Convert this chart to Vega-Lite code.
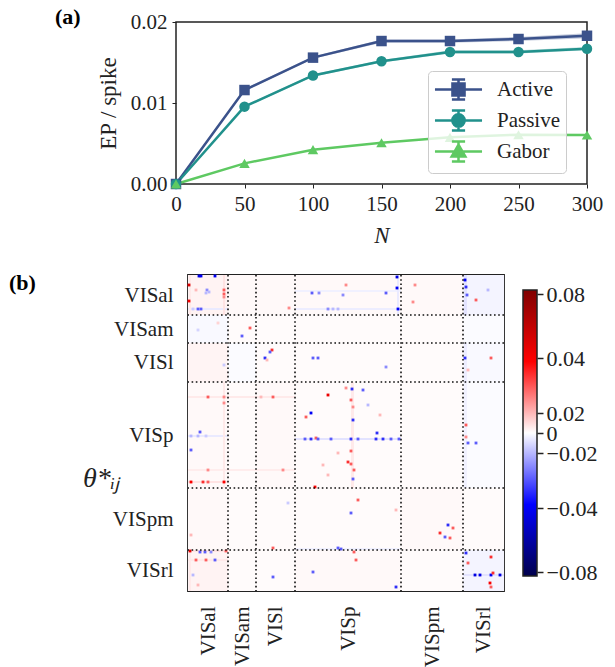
{
"$schema":"https://vega.github.io/schema/vega-lite/v6.json",
"background":"white",
"padding":{"left":8,"top":5,"right":5,"bottom":5},
"config":{"font":"Liberation Serif","view":{"stroke":null},"axis":{"labelFont":"Liberation Serif","titleFont":"Liberation Serif","labelColor":"#222","titleColor":"#222","grid":false,"titleFontWeight":"normal"}},
"bounds":"flush",
"spacing":91,
"vconcat":[
{
"width":411,"height":162,
"view":{"stroke":"#222","strokeWidth":1.5},
"title":{"text":"(a)","anchor":"start","frame":"group","dx":-121,"offset":-18,"fontSize":22,"fontWeight":"bold","font":"Liberation Serif","color":"#000"},
"data":{"values":[
{"model":"Active","N":0,"ep":0,"lo":0,"hi":0},
{"model":"Active","N":50,"ep":0.0116,"lo":0.01145,"hi":0.01175},
{"model":"Active","N":100,"ep":0.0156,"lo":0.01545,"hi":0.01575},
{"model":"Active","N":150,"ep":0.01765,"lo":0.01745,"hi":0.01785},
{"model":"Active","N":200,"ep":0.01765,"lo":0.01745,"hi":0.01785},
{"model":"Active","N":250,"ep":0.0179,"lo":0.01765,"hi":0.01815},
{"model":"Active","N":300,"ep":0.0183,"lo":0.018,"hi":0.0186},
{"model":"Passive","N":0,"ep":0,"lo":0,"hi":0},
{"model":"Passive","N":50,"ep":0.00955,"lo":0.00943,"hi":0.00967},
{"model":"Passive","N":100,"ep":0.0134,"lo":0.01325,"hi":0.01355},
{"model":"Passive","N":150,"ep":0.01515,"lo":0.015,"hi":0.0153},
{"model":"Passive","N":200,"ep":0.0163,"lo":0.0161,"hi":0.0165},
{"model":"Passive","N":250,"ep":0.0163,"lo":0.0161,"hi":0.0165},
{"model":"Passive","N":300,"ep":0.0167,"lo":0.0165,"hi":0.0169},
{"model":"Gabor","N":0,"ep":0,"lo":0,"hi":0},
{"model":"Gabor","N":50,"ep":0.00255,"lo":0.0025,"hi":0.0026},
{"model":"Gabor","N":100,"ep":0.00424,"lo":0.00418,"hi":0.0043},
{"model":"Gabor","N":150,"ep":0.0051,"lo":0.00504,"hi":0.00516},
{"model":"Gabor","N":200,"ep":0.00576,"lo":0.0057,"hi":0.00582},
{"model":"Gabor","N":250,"ep":0.00609,"lo":0.00603,"hi":0.00615},
{"model":"Gabor","N":300,"ep":0.00605,"lo":0.00599,"hi":0.00611}
]},
"encoding":{
"x":{"field":"N","type":"quantitative","scale":{"domain":[0,300],"nice":false},
 "axis":{"values":[0,50,100,150,200,250,300],"title":"N","titleFontStyle":"italic","titleFontSize":23,"labelFontSize":21,"tickSize":4,"tickColor":"#222","domain":false,"labelPadding":5,"titlePadding":10,"labelFlush":false}}
},
"resolve":{"scale":{"shape":"independent"}},
"layer":[
{"mark":{"type":"area","opacity":0.3},
 "encoding":{"y":{"field":"lo","type":"quantitative","scale":{"domain":[0,0.02],"nice":false},
   "axis":{"values":[0,0.01,0.02],"format":".2f","title":"EP / spike","titleFontSize":23,"labelFontSize":21,"tickSize":4,"tickColor":"#222","domain":false,"labelPadding":5,"titlePadding":10,"labelFlush":false}},
  "y2":{"field":"hi"},
  "color":{"field":"model","type":"nominal","scale":{"domain":["Active","Passive","Gabor"],"range":["#3b528b","#21918c","#5ec962"]},"legend":null}}},
{"mark":{"type":"line","strokeWidth":2.5},
 "encoding":{"y":{"field":"ep","type":"quantitative"},
  "color":{"field":"model","type":"nominal","legend":null}}},
{"mark":{"type":"point","filled":true,"opacity":1,"size":110},
 "encoding":{"y":{"field":"ep","type":"quantitative"},
  "color":{"field":"model","type":"nominal","legend":null},
  "shape":{"field":"model","type":"nominal","scale":{"domain":["Active","Passive","Gabor"],"range":["square","circle","triangle-up"]},"legend":null}}},
{"mark":{"type":"point","filled":true,"opacity":0,"size":484},
 "encoding":{"y":{"field":"ep","type":"quantitative"},
  "shape":{"field":"model","type":"nominal","scale":{"domain":["Active","Passive","Gabor"],"range":["M-2.14,0H2.14M-0.55,-0.55H0.55V0.55H-0.55ZM0,-0.9V0.9M-0.6,-0.9H0.6M-0.6,0.9H0.6","M-2.14,0H2.14M0.56,0A0.56,0.56,0,1,1,-0.56,0A0.56,0.56,0,1,1,0.56,0ZM0,-0.9V0.9M-0.6,-0.9H0.6M-0.6,0.9H0.6","M-2.14,0H2.14M0,-0.62L0.62,0.45H-0.62ZM0,-0.9V0.9M-0.6,-0.9H0.6M-0.6,0.9H0.6"]},
   "legend":{"title":null,"orient":"none","legendX":252,"legendY":49,"direction":"vertical","labelFontSize":21,"labelFont":"Liberation Serif","labelColor":"#222","symbolSize":484,"symbolStrokeWidth":2.5,"symbolOpacity":1,"labelOffset":26,"symbolOffset":12,"rowPadding":0,"padding":6,"fillColor":"rgba(255,255,255,0.8)","strokeColor":"#cccccc","cornerRadius":4,
    "encoding":{"symbols":{
     "stroke":{"value":{"expr":"datum.value === 'Active' ? '#3b528b' : datum.value === 'Passive' ? '#21918c' : '#5ec962'"}},
     "fill":{"value":{"expr":"datum.value === 'Active' ? '#3b528b' : datum.value === 'Passive' ? '#21918c' : '#5ec962'"}},
     "strokeWidth":{"value":2.5},
     "opacity":{"value":1},"fillOpacity":{"value":1},"strokeOpacity":{"value":1}}}}}}}
]
},
{
"bounds":"flush","spacing":0,
"hconcat":[
{"width":12,"height":316,"data":{"values":[{}]},"mark":{"type":"point","opacity":0}},
{
"bounds":"flush","spacing":19,
"hconcat":[
{
"width":316,"height":316,
"view":{"stroke":"#222","strokeWidth":1.8},
"title":{"text":"(b)","anchor":"start","frame":"group","dx":-179,"offset":-21,"fontSize":22,"fontWeight":"bold","font":"Liberation Serif","color":"#000"},
"layer":[
{"data":{"values":[
{"c":0,"c2":40,"r":0,"r2":40,"v":0.0035},{"c":40,"c2":68,"r":0,"r2":40,"v":0.0018},{"c":68,"c2":107,"r":0,"r2":40,"v":0.0018},{"c":107,"c2":213,"r":0,"r2":40,"v":0.0018},{"c":213,"c2":275,"r":0,"r2":40,"v":0.0018},{"c":275,"c2":316,"r":0,"r2":40,"v":-0.003},
{"c":0,"c2":40,"r":40,"r2":68,"v":-0.0018},{"c":40,"c2":68,"r":40,"r2":68,"v":0.0012},{"c":68,"c2":107,"r":40,"r2":68,"v":0.0012},{"c":107,"c2":213,"r":40,"r2":68,"v":0.0012},{"c":213,"c2":275,"r":40,"r2":68,"v":0.0012},{"c":275,"c2":316,"r":40,"r2":68,"v":-0.0012},
{"c":0,"c2":40,"r":68,"r2":107,"v":0.003},{"c":40,"c2":68,"r":68,"r2":107,"v":-0.0012},{"c":68,"c2":107,"r":68,"r2":107,"v":0.0012},{"c":107,"c2":213,"r":68,"r2":107,"v":0.0012},{"c":213,"c2":275,"r":68,"r2":107,"v":0.0012},{"c":275,"c2":316,"r":68,"r2":107,"v":-0.0018},
{"c":0,"c2":40,"r":107,"r2":213,"v":0.0018},{"c":40,"c2":68,"r":107,"r2":213,"v":0.0012},{"c":68,"c2":107,"r":107,"r2":213,"v":0.0018},{"c":107,"c2":213,"r":107,"r2":213,"v":0.0012},{"c":213,"c2":275,"r":107,"r2":213,"v":0.0012},{"c":275,"c2":316,"r":107,"r2":213,"v":-0.0012},
{"c":0,"c2":40,"r":213,"r2":275,"v":0.0018},{"c":40,"c2":68,"r":213,"r2":275,"v":0.0012},{"c":68,"c2":107,"r":213,"r2":275,"v":0.0012},{"c":107,"c2":213,"r":213,"r2":275,"v":0.0012},{"c":213,"c2":275,"r":213,"r2":275,"v":0.0018},{"c":275,"c2":316,"r":213,"r2":275,"v":0.0012},
{"c":0,"c2":40,"r":275,"r2":316,"v":0.0035},{"c":40,"c2":68,"r":275,"r2":316,"v":0.0012},{"c":68,"c2":107,"r":275,"r2":316,"v":0.0012},{"c":107,"c2":213,"r":275,"r2":316,"v":0.0018},{"c":213,"c2":275,"r":275,"r2":316,"v":0.0012},{"c":275,"c2":316,"r":275,"r2":316,"v":-0.003},
{"c":0,"c2":40,"r":33,"r2":35,"v":-0.006},{"c":107,"c2":213,"r":33,"r2":35,"v":-0.005},{"c":107,"c2":213,"r":15,"r2":17,"v":-0.004},
{"c":0,"c2":107,"r":121,"r2":123,"v":0.006},{"c":0,"c2":40,"r":160,"r2":162,"v":-0.006},{"c":107,"c2":213,"r":163,"r2":165,"v":-0.008},
{"c":0,"c2":107,"r":194,"r2":196,"v":0.005},{"c":0,"c2":40,"r":206,"r2":208,"v":0.008},
{"c":0,"c2":40,"r":275,"r2":277,"v":0.008},{"c":107,"c2":213,"r":273,"r2":275,"v":-0.004},{"c":0,"c2":40,"r":284,"r2":286,"v":0.006},{"c":275,"c2":316,"r":299,"r2":301,"v":-0.008},
{"c":35,"c2":37,"r":0,"r2":40,"v":0.008},{"c":35,"c2":37,"r":107,"r2":213,"v":0.006},{"c":163,"c2":166,"r":107,"r2":213,"v":0.006},
{"c":276,"c2":279,"r":0,"r2":40,"v":-0.008},{"c":276,"c2":279,"r":68,"r2":107,"v":-0.005},{"c":276,"c2":279,"r":107,"r2":213,"v":-0.004},
{"c":209,"c2":211,"r":0,"r2":40,"v":-0.006},{"c":1,"c2":3,"r":0,"r2":40,"v":0.006},{"c":1,"c2":3,"r":275,"r2":316,"v":0.006}
]},
"mark":{"type":"rect","strokeWidth":0},
"encoding":{
"x":{"field":"c","type":"quantitative","scale":{"domain":[0,316],"nice":false,"zero":false},
 "axis":{"values":[20,54,87.5,160,244,295.5],"labelExpr":"datum.value==20?'VISal':datum.value==54?'VISam':datum.value==87.5?'VISl':datum.value==160?'VISp':datum.value==244?'VISpm':'VISrl'","labelAngle":270,"labelAlign":"right","labelBaseline":"middle","labelPadding":15,"ticks":false,"domain":false,"title":null,"labelFontSize":21,"labelOverlap":false,"labelFlush":false}},
"x2":{"field":"c2"},
"y":{"field":"r","type":"quantitative","scale":{"domain":[0,316],"nice":false,"zero":false,"reverse":true},
 "axis":{"values":[20,54,87.5,160,244,295.5],"labelExpr":"datum.value==20?'VISal':datum.value==54?'VISam':datum.value==87.5?'VISl':datum.value==160?'VISp':datum.value==244?'VISpm':'VISrl'","labelPadding":15,"ticks":false,"domain":false,"labelFontSize":21,"labelOverlap":false,"labelFlush":false,
  "title":"θ*ᵢⱼ","titleAngle":0,"titleX":-87,"titleY":211,"titleAlign":"center","titleBaseline":"alphabetic","titleFontSize":28,"titleFontStyle":"italic"}},
"y2":{"field":"r2"},
"color":{"field":"v","type":"quantitative","scale":{"domain":[-0.08,-0.04,-0.02,0,0.02,0.04,0.08],"range":["#000056","#0000f6","#b8b8ff","#ffffff","#ffb8b8","#f90000","#870000"],"clamp":true,"interpolate":"rgb"},"legend":null}
}},
{"data":{"values":[
{"c":11,"r":1,"v":-0.045},{"c":13,"r":1,"v":-0.04},{"c":27,"r":1,"v":-0.04},{"c":1,"r":10,"v":0.05},{"c":1,"r":26,"v":0.04},{"c":19,"r":15,"v":-0.025},{"c":21,"r":17,"v":-0.02},{"c":18,"r":18,"v":-0.02},{"c":8,"r":15,"v":0.02},{"c":36,"r":15,"v":0.03},{"c":36,"r":19,"v":0.03},{"c":36,"r":22,"v":0.025},{"c":10,"r":34,"v":-0.03},{"c":13,"r":34,"v":-0.03},{"c":5,"r":34,"v":-0.015},
{"c":124,"r":18,"v":-0.03},{"c":131,"r":18,"v":-0.025},{"c":155,"r":20,"v":-0.025},{"c":198,"r":18,"v":-0.03},{"c":209,"r":2,"v":-0.045},{"c":209,"r":13,"v":-0.04},{"c":210,"r":34,"v":-0.04},{"c":158,"r":10,"v":0.025},{"c":227,"r":10,"v":0.025},{"c":225,"r":27,"v":0.025},{"c":140,"r":34,"v":-0.025},{"c":150,"r":34,"v":-0.02},{"c":145,"r":34,"v":-0.02},{"c":277,"r":5,"v":-0.04},{"c":278,"r":12,"v":-0.035},{"c":279,"r":20,"v":-0.03},{"c":288,"r":25,"v":0.03},{"c":300,"r":15,"v":-0.02},{"c":101,"r":33,"v":0.025},
{"c":62,"r":53,"v":0.03},{"c":54,"r":61,"v":-0.03},{"c":10,"r":55,"v":-0.012},{"c":30,"r":48,"v":0.012},
{"c":84,"r":75,"v":0.035},{"c":82,"r":77,"v":-0.03},{"c":77,"r":83,"v":-0.035},{"c":79,"r":85,"v":0.02},{"c":125,"r":83,"v":-0.03},{"c":130,"r":83,"v":-0.03},{"c":198,"r":92,"v":-0.025},{"c":277,"r":83,"v":-0.035},{"c":303,"r":83,"v":0.03},{"c":36,"r":90,"v":-0.015},{"c":280,"r":95,"v":0.02},
{"c":20,"r":122,"v":0.03},{"c":36,"r":122,"v":0.025},{"c":36,"r":128,"v":0.025},{"c":85,"r":122,"v":0.03},{"c":73,"r":122,"v":0.02},{"c":12,"r":157,"v":-0.03},{"c":3,"r":175,"v":-0.03},{"c":20,"r":195,"v":0.025},{"c":95,"r":195,"v":0.025},{"c":3,"r":207,"v":0.04},{"c":15,"r":207,"v":0.035},{"c":20,"r":207,"v":0.03},{"c":36,"r":207,"v":0.04},
{"c":140,"r":120,"v":0.045},{"c":164,"r":114,"v":-0.035},{"c":123,"r":138,"v":-0.04},{"c":118,"r":142,"v":0.03},{"c":163,"r":125,"v":0.03},{"c":165,"r":132,"v":0.025},{"c":165,"r":145,"v":-0.035},{"c":128,"r":163,"v":0.03},{"c":117,"r":164,"v":-0.03},{"c":123,"r":164,"v":-0.035},{"c":130,"r":164,"v":-0.03},{"c":143,"r":164,"v":-0.03},{"c":163,"r":164,"v":-0.035},{"c":170,"r":164,"v":-0.03},{"c":188,"r":164,"v":-0.035},{"c":195,"r":164,"v":-0.035},{"c":203,"r":164,"v":-0.03},{"c":211,"r":164,"v":-0.03},{"c":189,"r":158,"v":-0.035},{"c":160,"r":187,"v":0.035},{"c":163,"r":189,"v":0.03},{"c":165,"r":204,"v":-0.03},{"c":163,"r":176,"v":0.03},{"c":166,"r":195,"v":0.03},{"c":127,"r":212,"v":0.04},{"c":278,"r":150,"v":0.03},{"c":278,"r":162,"v":0.025},{"c":280,"r":168,"v":-0.03},{"c":288,"r":168,"v":-0.03},{"c":3,"r":161,"v":-0.02},{"c":10,"r":161,"v":-0.02},{"c":18,"r":161,"v":-0.015},{"c":150,"r":178,"v":0.02},{"c":140,"r":200,"v":0.02},{"c":180,"r":130,"v":-0.02},{"c":192,"r":140,"v":0.02},{"c":135,"r":190,"v":0.02},{"c":175,"r":115,"v":-0.03},{"c":158,"r":113,"v":0.025},
{"c":163,"r":238,"v":-0.03},{"c":170,"r":225,"v":0.03},{"c":260,"r":250,"v":-0.035},{"c":265,"r":253,"v":0.03},{"c":252,"r":258,"v":0.035},{"c":257,"r":262,"v":-0.03},{"c":262,"r":263,"v":0.03},{"c":3,"r":260,"v":0.02},{"c":208,"r":235,"v":0.02},{"c":100,"r":228,"v":-0.015},
{"c":2,"r":276,"v":0.045},{"c":12,"r":277,"v":-0.03},{"c":17,"r":277,"v":-0.03},{"c":23,"r":277,"v":-0.025},{"c":38,"r":276,"v":0.03},{"c":8,"r":285,"v":0.03},{"c":18,"r":285,"v":0.03},{"c":27,"r":285,"v":-0.03},{"c":85,"r":302,"v":-0.03},{"c":85,"r":273,"v":0.03},{"c":150,"r":273,"v":-0.03},{"c":153,"r":274,"v":-0.03},{"c":166,"r":277,"v":0.03},{"c":168,"r":285,"v":0.03},{"c":125,"r":297,"v":-0.03},{"c":208,"r":312,"v":-0.035},{"c":278,"r":278,"v":-0.035},{"c":280,"r":288,"v":0.03},{"c":287,"r":300,"v":-0.045},{"c":292,"r":300,"v":-0.045},{"c":303,"r":300,"v":-0.04},{"c":312,"r":300,"v":-0.045},{"c":305,"r":298,"v":0.035},{"c":303,"r":282,"v":0.035},{"c":302,"r":308,"v":0.04},{"c":303,"r":312,"v":0.03},{"c":5,"r":300,"v":-0.02},{"c":10,"r":310,"v":0.02}
]},
"mark":{"type":"point","shape":"square","filled":true,"size":8,"opacity":1,"strokeWidth":0},
"encoding":{"x":{"field":"c","type":"quantitative"},"y":{"field":"r","type":"quantitative"},"color":{"field":"v","type":"quantitative","legend":null}}},
{"data":{"values":[{"b":40},{"b":68},{"b":107},{"b":213},{"b":275}]},
 "mark":{"type":"rule","color":"#111","strokeDash":[1.6,2.6],"strokeWidth":1.6},
 "encoding":{"x":{"field":"b","type":"quantitative"}}},
{"data":{"values":[{"b":40},{"b":68},{"b":107},{"b":213},{"b":275}]},
 "mark":{"type":"rule","color":"#111","strokeDash":[1.6,2.6],"strokeWidth":1.6},
 "encoding":{"y":{"field":"b","type":"quantitative"}}}
]
},
{
"width":14,"height":301,
"data":{"values":[{"lo":-0.0825,"hi":0.0825}]},
"mark":{"type":"rect","stroke":"#222","strokeWidth":1.5,
 "fill":{"gradient":"linear","x1":0,"y1":1,"x2":0,"y2":0,"stops":[{"offset":0,"color":"#00004c"},{"offset":0.25,"color":"#0000ff"},{"offset":0.5,"color":"#ffffff"},{"offset":0.75,"color":"#ff0000"},{"offset":1,"color":"#800000"}]}},
"encoding":{
"y":{"field":"lo","type":"quantitative",
 "scale":{"domain":[-0.0825,-0.08,-0.04,-0.02,0,0.02,0.04,0.08,0.0825],"range":[301,297,233,178,158,138,83,19,15],"nice":false,"zero":false},
 "axis":{"orient":"right","values":[-0.08,-0.04,-0.02,0,0.02,0.04,0.08],"labelExpr":"datum.value==0?'0':replace(format(datum.value,'.2f'),'-','−')","tickSize":6,"tickWidth":1.5,"tickColor":"#222","domain":false,"labelFontSize":22,"labelPadding":3,"title":null,"labelOverlap":false,"labelFlush":false}},
"y2":{"field":"hi"}
}
}
]
}
]
}
]
}
